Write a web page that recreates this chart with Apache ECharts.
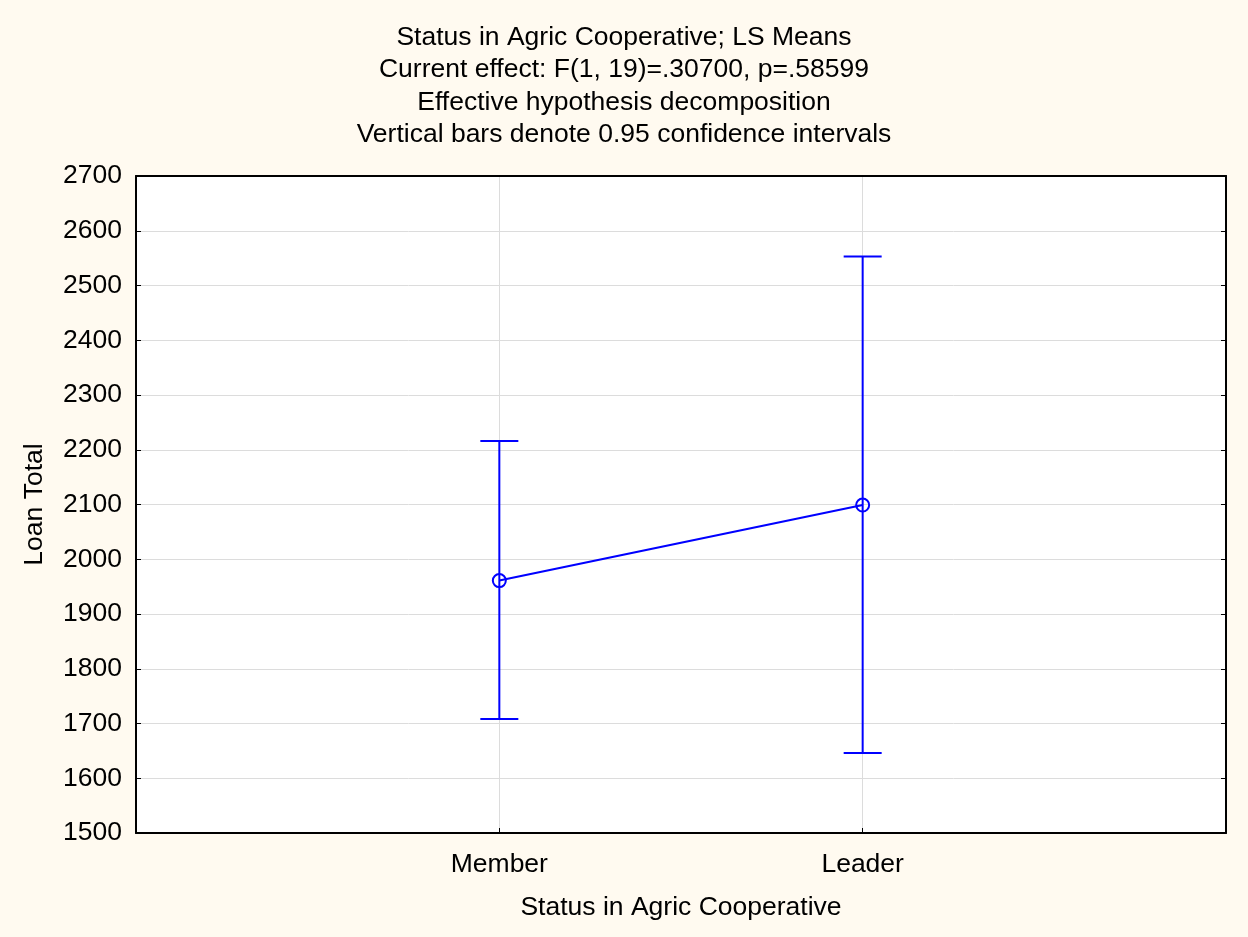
<!DOCTYPE html>
<html>
<head>
<meta charset="utf-8">
<script src="https://cdn.jsdelivr.net/npm/echarts@6/dist/echarts.min.js"></script>
<style>
  html, body { margin: 0; padding: 0; background: #fffaf0; }
  #chart { width: 1248px; height: 937px; }
</style>
</head>
<body>
<div id="chart"></div>
<script>
// padded slots either side so the two groups sit at 1/3 and 2/3 of the width
const categories = ['', 'Member', 'Leader', '']
const means = [1961, 2099]
const lower = [1708, 1646]
const upper = [2216, 2553]
const yTicks = { min: 1500, max: 2700, step: 100 }

const FONT = '"Liberation Sans", Arial, sans-serif'
const FS = 26.5
const BLUE = '#0000ff'
const showMid = (i) => i === 1 || i === 2

const chart = echarts.init(document.getElementById('chart'))

const lineData = means.map((v, i) => [i + 1, v])
const barData = means.map((v, i) => [i + 1, lower[i], upper[i]])

const option = {
  backgroundColor: '#fffaf0',
  animation: false,
  title: {
    text: 'Status in Agric Cooperative; LS Means\nCurrent effect: F(1, 19)=.30700, p=.58599\nEffective hypothesis decomposition\nVertical bars denote 0.95 confidence intervals',
    left: 'center',
    top: 16,
    textStyle: {
      fontFamily: FONT,
      fontSize: FS,
      fontWeight: 'normal',
      color: '#000',
      lineHeight: 32.5
    }
  },
  grid: {
    left: 136,
    right: 22,
    top: 176,
    bottom: 104,
    show: true,
    backgroundColor: '#ffffff',
    borderWidth: 0
  },
  xAxis: [
    {
      type: 'category',
      data: categories,
      boundaryGap: false,
      name: 'Status in Agric Cooperative',
      nameLocation: 'middle',
      nameGap: 61,
      nameTextStyle: { fontFamily: FONT, fontSize: FS, color: '#000' },
      axisLine: { lineStyle: { color: '#000', width: 2 } },
      axisTick: { inside: true, length: 5, interval: (i) => showMid(i), lineStyle: { color: '#000' } },
      axisLabel: { interval: (i) => showMid(i), fontFamily: FONT, fontSize: FS, color: '#000', margin: 18 },
      splitLine: { show: true, interval: (i) => showMid(i), lineStyle: { color: '#dcdcdc', width: 1 } }
    },
    {
      type: 'category',
      position: 'top',
      data: categories,
      boundaryGap: false,
      axisLine: { lineStyle: { color: '#000', width: 2 } },
      axisTick: { show: false },
      axisLabel: { show: false },
      splitLine: { show: false }
    }
  ],
  yAxis: [
    {
      type: 'value',
      min: yTicks.min,
      max: yTicks.max,
      interval: yTicks.step,
      name: 'Loan Total',
      nameLocation: 'middle',
      nameGap: 88,
      nameTextStyle: { fontFamily: FONT, fontSize: FS, color: '#000' },
      axisLine: { show: true, lineStyle: { color: '#000', width: 2 } },
      axisTick: { show: true, inside: true, length: 5, lineStyle: { color: '#000' } },
      axisLabel: { fontFamily: FONT, fontSize: FS, color: '#000', margin: 14, formatter: (v) => String(v) },
      splitLine: { show: true, lineStyle: { color: '#dcdcdc', width: 1 } }
    },
    {
      type: 'value',
      position: 'right',
      min: yTicks.min,
      max: yTicks.max,
      interval: yTicks.step,
      axisLine: { show: true, lineStyle: { color: '#000', width: 2 } },
      axisTick: { show: true, inside: true, length: 5, lineStyle: { color: '#000' } },
      axisLabel: { show: false },
      splitLine: { show: false }
    }
  ],
  series: [
    {
      type: 'custom',
      xAxisIndex: 0,
      yAxisIndex: 0,
      data: barData,
      z: 3,
      renderItem: (params, api) => {
        const x = api.value(0)
        const lo = api.coord([x, api.value(1)])
        const hi = api.coord([x, api.value(2)])
        const cap = 19
        const style = { stroke: BLUE, lineWidth: 2 }
        return {
          type: 'group',
          children: [
            { type: 'line', shape: { x1: lo[0], y1: lo[1], x2: hi[0], y2: hi[1] }, style },
            { type: 'line', shape: { x1: lo[0] - cap, y1: lo[1], x2: lo[0] + cap, y2: lo[1] }, style },
            { type: 'line', shape: { x1: hi[0] - cap, y1: hi[1], x2: hi[0] + cap, y2: hi[1] }, style }
          ]
        }
      }
    },
    {
      type: 'line',
      xAxisIndex: 0,
      yAxisIndex: 0,
      data: lineData,
      z: 4,
      symbol: 'circle',
      symbolSize: 13,
      lineStyle: { color: BLUE, width: 2 },
      itemStyle: { color: 'rgba(0,0,0,0)', borderColor: BLUE, borderWidth: 2 }
    }
  ]
}

chart.setOption(option)
</script>
</body>
</html>
